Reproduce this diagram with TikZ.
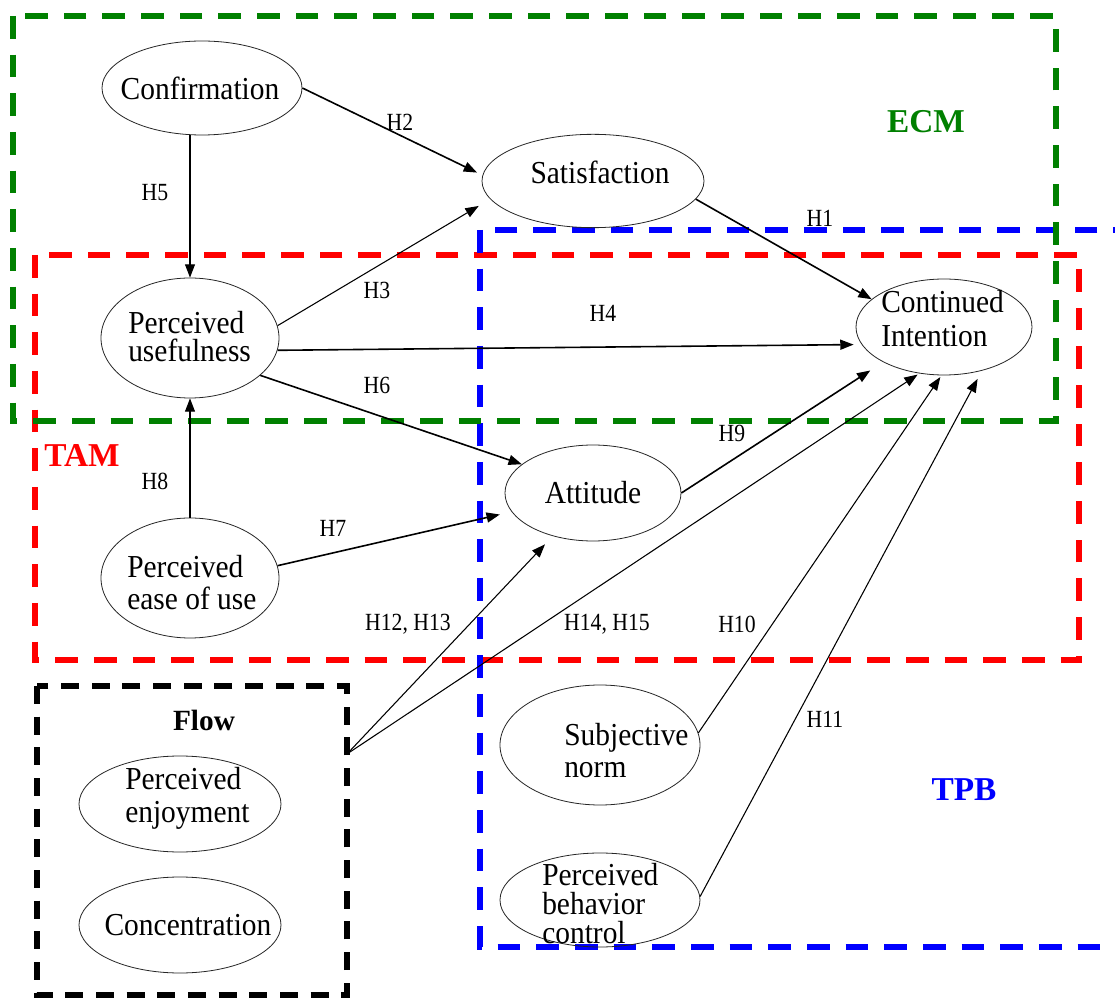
\documentclass[tikz,border=0pt]{standalone}
\usepackage{fontspec}
\setmainfont{Liberation Serif}
\newfontfamily\nodefont[FakeStretch=0.92]{Liberation Serif}
\newfontfamily\hypfont[FakeStretch=0.88]{Liberation Serif}
\usetikzlibrary{arrows.meta,shapes.geometric}
\definecolor{ecmgreen}{RGB}{0,128,0}
\definecolor{tamred}{RGB}{255,0,0}
\definecolor{tpbblue}{RGB}{0,0,255}
\begin{document}
\begin{tikzpicture}[x=0.75pt,y=-0.75pt,
  construct/.style={ellipse, draw=black!85, line width=0.6pt, inner sep=0pt},
  ctext/.style={inner sep=0pt, align=left, font=\nodefont\fontsize{24}{24}\selectfont},
  hyp/.style={inner sep=0pt, font=\hypfont\fontsize{18.5}{20}\selectfont},
  modelname/.style={inner sep=0pt, font=\bfseries\fontsize{25}{28}\selectfont},
  frame/.style={line width=4.3pt, dash pattern=on 17pt off 12pt},
  flowframe/.style={line width=4.3pt, dash pattern=on 13.5pt off 9.5pt},
  arrowline/.style={-{Triangle[length=10pt,width=7.5pt]}, line width=0.8pt},
  boldline/.style={arrowline, line width=1.2pt},
]
\path[use as bounding box, fill=white] (0,0) rectangle (1115,998);
\clip (0,0) rectangle (1115,998);

% model frames
\draw[frame, tamred] (35,255) rectangle (1079,660);
\draw[frame, tpbblue] (480,230) rectangle (1135,947);
\draw[frame, ecmgreen] (13,16) rectangle (1056,421);
\draw[flowframe, black] (37,686) rectangle (347,995);
\coordinate (flowout) at (347,754);

% model names
\node[modelname, text=ecmgreen] (ecm) at (926,122) {ECM};
\node[modelname, text=tamred] (tam) at (82,455) {TAM};
\node[modelname, text=tpbblue] (tpb) at (964,790) {TPB};
\node[modelname, font=\bfseries\fontsize{22}{24}\selectfont] (flow) at (204,720) {Flow};

% constructs
\node[construct, minimum width=150pt, minimum height=70.5pt] (conf) at (202,88) {};
\node[construct, minimum width=133.5pt, minimum height=90pt] (pu) at (190,338) {};
\node[construct, minimum width=166.5pt, minimum height=70pt] (sat) at (593,181) {};
\node[construct, minimum width=132pt, minimum height=72pt] (ci) at (944,327) {};
\node[construct, minimum width=132pt, minimum height=72pt] (att) at (593,493) {};
\node[construct, minimum width=133.5pt, minimum height=90pt] (peou) at (190,578) {};
\node[construct, minimum width=151.5pt, minimum height=72pt] (enj) at (180,804) {};
\node[construct, minimum width=151.5pt, minimum height=72pt] (conc) at (180,925) {};
\node[construct, minimum width=150pt, minimum height=90pt] (sn) at (600,745) {};
\node[construct, minimum width=150pt, minimum height=70.5pt] (pbc) at (600,900) {};

% construct names
\node[ctext] (confT) at (200,88) {Confirmation};
\node[ctext] (satT) at (600,172) {Satisfaction};
\node[ctext] (attT) at (593,493) {Attitude};
\node[ctext, anchor=west, font=\nodefont\fontsize{24}{21}\selectfont] (puT) at (128,337) {Perceived\\usefulness};
\node[ctext, anchor=west, font=\nodefont\fontsize{24}{25.5}\selectfont] (ciT) at (881,319) {Continued\\Intention};
\node[ctext, anchor=west] (peouT) at (127,583) {Perceived\\ease of use};
\node[ctext, anchor=west, font=\nodefont\fontsize{24}{24.75}\selectfont] (enjT) at (125,798) {Perceived\\enjoyment};
\node[ctext] (concT) at (188,925) {Concentration};
\node[ctext, anchor=west] (snT) at (564,751) {Subjective\\norm};
\node[ctext, anchor=west, font=\nodefont\fontsize{24}{21.75}\selectfont] (pbcT) at (542,904) {Perceived\\behavior\\control};

% hypothesised paths
\draw[arrowline] (conf.south -| pu.north) -- (pu.north);
\draw[boldline, shorten >=4.5pt] (conf.east) -- (sat.177);
\draw[arrowline, shorten >=10pt] (pu.8) -- (sat.190);
\draw[boldline, shorten >=6pt] (pu.-8) -- (ci.192);
\draw[boldline] (pu.-28) -- (att.158);
\draw[boldline] (sat.-10) -- (ci.159);
\draw[arrowline] (peou.north) -- (pu.south);
\draw[boldline, shorten >=9pt] (peou.8) -- (att.193);
\draw[boldline, shorten >=11.5pt] (att.east) -- (ci.210);
\draw[arrowline, shorten >=8.5pt] (flowout) -- (att.227);
\draw[arrowline, shorten >=1.5pt] (flowout) -- (ci.242);
\draw[arrowline, shorten >=1.5pt] (sn.7) -- (ci.267);
\draw[arrowline, shorten >=7pt] (pbc.2) -- (ci.-49);

% hypothesis labels
\node[hyp] (h1) at (820,218) {H1};
\node[hyp] (h2) at (400,122) {H2};
\node[hyp] (h3) at (377,290) {H3};
\node[hyp] (h4) at (603,313) {H4};
\node[hyp] (h5) at (155,193) {H5};
\node[hyp] (h6) at (377,385) {H6};
\node[hyp] (h7) at (333,528) {H7};
\node[hyp] (h8) at (155,481) {H8};
\node[hyp] (h9) at (732,433) {H9};
\node[hyp] (h10) at (737,624) {H10};
\node[hyp] (h11) at (825,719) {H11};
\node[hyp] (h1213) at (408,624) {H12, H13};
\node[hyp] (h1415) at (607,624) {H14, H15};
\end{tikzpicture}
\end{document}
